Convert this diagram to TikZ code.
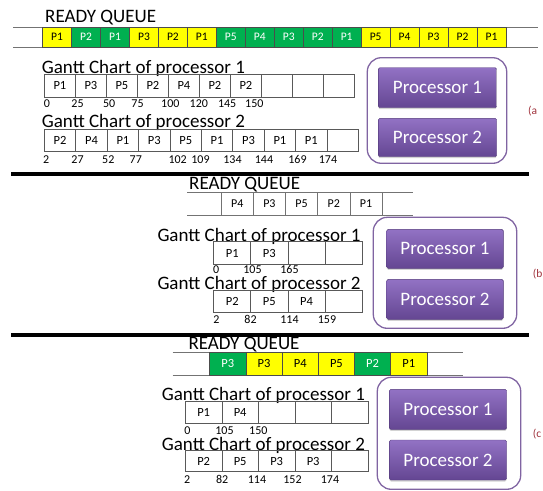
\documentclass[tikz,border=0pt]{standalone}
\usepackage{fontspec}
\setmainfont{Carlito}
\usetikzlibrary{shadows}

\definecolor{qyellow}{RGB}{255,255,0}
\definecolor{qgreen}{RGB}{0,176,80}
\definecolor{procframe}{RGB}{128,100,162}
\definecolor{proctop}{RGB}{146,114,196}
\definecolor{procbot}{RGB}{100,70,146}
\definecolor{tagred}{RGB}{160,50,60}

\tikzset{
  heading/.style={anchor=base west,inner sep=0pt,font=\fontsize{19}{19}\selectfont},
  qline/.style={draw=black!55,line width=0.8pt},
  qcell/.style={draw=black!70,line width=0.8pt,inner sep=0pt,anchor=west,font=\fontsize{11.5}{12}\selectfont},
  gcell/.style={draw=black!65,line width=0.8pt,inner sep=0pt,anchor=west,font=\fontsize{12.5}{12}\selectfont},
  tick/.style={anchor=base,inner sep=0pt,font=\fontsize{12}{12}\selectfont},
  procbox/.style={draw=procframe,line width=1.3pt,rounded corners=14pt,inner sep=0pt},
  procbtn/.style={top color=proctop,bottom color=procbot,draw=procbot!85!black,line width=0.4pt,
    rounded corners=1.5pt,drop shadow={shadow xshift=0pt,shadow yshift=-1.5pt,opacity=0.35},
    text=white,font=\fontsize{19}{19}\selectfont,inner sep=0pt},
  tag/.style={anchor=west,inner sep=0pt,text=tagred,font=\fontsize{11.5}{12}\selectfont},
  bar/.style={line width=4pt}
}

\begin{document}
\begin{tikzpicture}[x=1pt,y=-1pt]
\useasboundingbox (0,0) rectangle (543,490);

% (a)
\node[heading] (rqa) at (45,22) {READY QUEUE};
\draw[qline] (13,27) -- (538,27) (13,47) -- (538,47);
\foreach \p/\fc/\tc [count=\i from 0] in {P1/qyellow/black,P2/qgreen/white,P1/qgreen/white,P3/qyellow/black,P2/qyellow/black,P1/qyellow/black,P5/qgreen/white,P4/qgreen/white,P3/qgreen/white,P2/qgreen/white,P1/qgreen/white,P5/qyellow/black,P4/qyellow/black,P3/qyellow/black,P2/qyellow/black,P1/qyellow/black}
  \node[qcell,fill=\fc,text=\tc,minimum width=28.96pt,minimum height=20pt] (qa\i) at ({42.2+28.96*\i},37) {\p};

\node[heading] (gta1) at (41.7,73) {Gantt Chart of processor 1};
\foreach \p [count=\i from 0] in {P1,P3,P5,P2,P4,P2,P2,{},{},{}}
  \node[gcell,minimum width=31pt,minimum height=23pt] (ga1c\i) at ({44+31*\i},85.8) {\p};
\foreach \t/\x [count=\i] in {0/47,25/77.5,50/109.2,75/137.5,100/170.3,120/198.8,145/227.2,150/254.3}
  \node[tick] (ga1t\i) at (\x,107.5) {\t};

\node[heading] (gta2) at (41.7,127.5) {Gantt Chart of processor 2};
\foreach \p [count=\i from 0] in {P2,P4,P1,P3,P5,P1,P3,P1,P1,{}}
  \node[gcell,minimum width=31.4pt,minimum height=22.7pt] (ga2c\i) at ({44+31.4*\i},140.3) {\p};
\foreach \t/\x [count=\i] in {2/46.2,27/77.5,52/108.3,77/135.8,102/177.7,109/200.5,134/232.5,144/264,169/297.5,174/328}
  \node[tick] (ga2t\i) at (\x,163.5) {\t};

\node[procbox,minimum width=139.4pt,minimum height=105.6pt] (cpua) at (437,110.5) {};
\node[procbtn,minimum width=118.4pt,minimum height=40pt] (pa1) at (437.5,87.7) {Processor 1};
\node[procbtn,minimum width=118.4pt,minimum height=38.4pt] (pa2) at (437.5,137.5) {Processor 2};
\node[tag] (taga) at (528,111) {(a};

\draw[bar] (11,174) -- (529,174);

% (b)
\node[heading] (rqb) at (189,189.3) {READY QUEUE};
\draw[qline] (187.3,192.7) -- (413.3,192.7) (187.3,215) -- (413.3,215);
\foreach \p [count=\i from 0] in {P4,P3,P5,P2,P1}
  \node[qcell,draw=black!55,font=\fontsize{12}{12}\selectfont,minimum width=32.2pt,minimum height=22.3pt] (qb\i) at ({220.7+32.2*\i},203.85) {\p};

\node[heading] (gtb1) at (157.3,241) {Gantt Chart of processor 1};
\foreach \p [count=\i from 0] in {P1,P3,{},{}}
  \node[gcell,minimum width=37.1pt,minimum height=22.3pt] (gb1c\i) at ({213.3+37.1*\i},253) {\p};
\foreach \t/\x [count=\i] in {0/216.2,105/252.5,165/289.5}
  \node[tick] (gb1t\i) at (\x,273.5) {\t};

\node[heading] (gtb2) at (157.3,289.5) {Gantt Chart of processor 2};
\foreach \p [count=\i from 0] in {P2,P5,P4,{}}
  \node[gcell,minimum width=37.1pt,minimum height=21.5pt] (gb2c\i) at ({213.3+37.1*\i},301.2) {\p};
\foreach \t/\x [count=\i] in {2/216.3,82/250.5,114/289.5,159/327}
  \node[tick] (gb2t\i) at (\x,323.5) {\t};

\node[procbox,minimum width=143.4pt,minimum height=111pt] (cpub) at (445,272.8) {};
\node[procbtn,minimum width=116.6pt,minimum height=39pt] (pb1) at (445,248.8) {Processor 1};
\node[procbtn,minimum width=116.6pt,minimum height=40pt] (pb2) at (445,299.3) {Processor 2};
\node[tag] (tagb) at (532.7,274) {(b};

\draw[bar] (11,335) -- (529,335);

% (c)
\node[heading] (rqc) at (188.3,349.5) {READY QUEUE};
\draw[qline] (172.7,352.7) -- (462.7,352.7) (172.7,375) -- (462.7,375);
\foreach \p/\fc/\tc [count=\i from 0] in {P3/qgreen/white,P3/qyellow/black,P4/qyellow/black,P5/qyellow/black,P2/qgreen/white,P1/qyellow/black}
  \node[qcell,fill=\fc,text=\tc,font=\fontsize{12.5}{12}\selectfont,minimum width=36.2pt,minimum height=22.3pt] (qc\i) at ({209.3+36.2*\i},363.85) {\p};

\node[heading] (gtc1) at (161.7,400.5) {Gantt Chart of processor 1};
\foreach \p [count=\i from 0] in {P1,P4,{},{},{}}
  \node[gcell,minimum width=36.5pt,minimum height=21.6pt] (gc1c\i) at ({185+36.5*\i},412.5) {\p};
\foreach \t/\x [count=\i] in {0/187.5,105/224.5,150/258.3}
  \node[tick] (gc1t\i) at (\x,434) {\t};

\node[heading] (gtc2) at (161.7,450) {Gantt Chart of processor 2};
\foreach \p [count=\i from 0] in {P2,P5,P3,P3,{}}
  \node[gcell,minimum width=36.5pt,minimum height=21pt] (gc2c\i) at ({185+36.5*\i},461.2) {\p};
\foreach \t/\x [count=\i] in {2/187.2,82/222.2,114/257,152/292.5,174/330}
  \node[tick] (gc2t\i) at (\x,483.5) {\t};

\node[procbox,minimum width=143.4pt,minimum height=112pt] (cpuc) at (449,433.3) {};
\node[procbtn,minimum width=117.4pt,minimum height=40pt] (pc1) at (448,409.3) {Processor 1};
\node[procbtn,minimum width=117.4pt,minimum height=40pt] (pc2) at (448,460) {Processor 2};
\node[tag] (tagc) at (532.7,434) {(c};
\end{tikzpicture}
\end{document}
